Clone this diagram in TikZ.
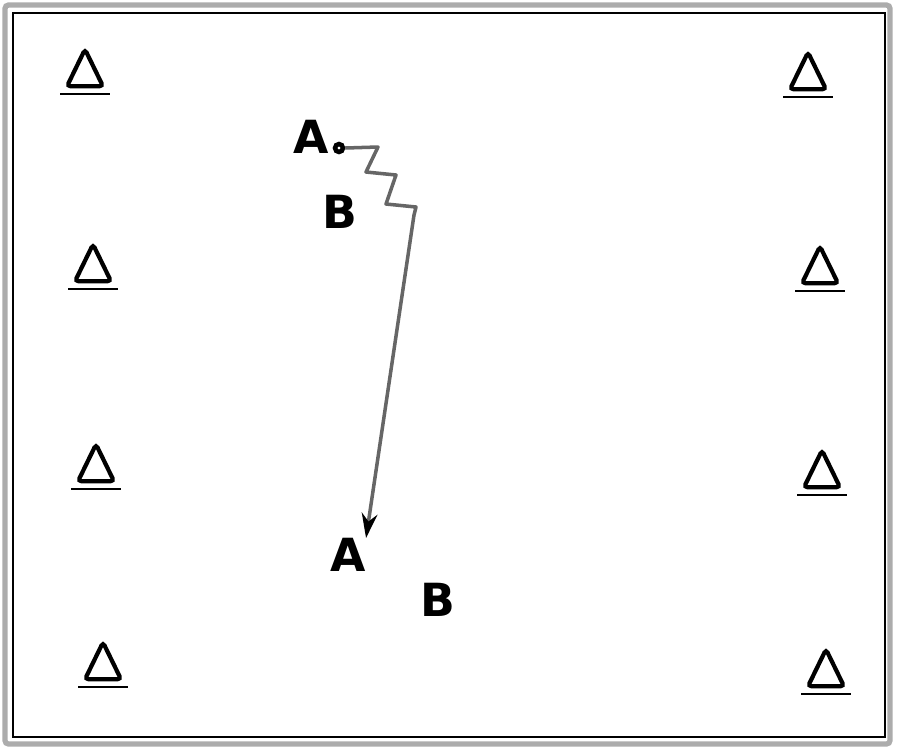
\documentclass[tikz,border=0pt]{standalone}
\usepackage{fontspec}
\setsansfont{DejaVu Sans}
\usetikzlibrary{shapes.geometric,arrows.meta}

\begin{document}
\begin{tikzpicture}[
    x=0.02cm, y=-0.02cm,
    cone/.style = {isosceles triangle, isosceles triangle apex angle=52,
      shape border rotate=90, draw, line width=2.4pt, rounded corners=2pt,
      minimum height=21pt, inner sep=0pt,
      append after command={([yshift=-3.2pt]\tikzlastnode.left corner)
        edge[line width=1pt, shorten <=-2pt, shorten >=-2pt]
        ([yshift=-3.2pt]\tikzlastnode.right corner)}},
    player/.style = {font=\sffamily\bfseries\fontsize{26}{26}\selectfont, inner sep=0pt},
    ball/.style = {circle, draw, line width=2.6pt, fill=white, minimum size=4.5pt, inner sep=0pt},
    run/.style = {draw=black!60, line width=2pt, line join=round},
    ]
    \useasboundingbox (0,0) rectangle (900,752);
    % frame
    \draw[gray!65, line width=3pt, rounded corners=2pt] (5,5) rectangle (890,744);
    \draw[line width=1.2pt] (13,13) rectangle (885,737);
    % cones
    \foreach \n/\x/\y in {l1/85/75, l2/93/270, l3/96/470, l4/103/668,
                          r1/808/78, r2/820/272, r3/822/476, r4/826/675}
      \node[cone] (\n) at (\x,\y) {};
    % players
    \node[player] (A1) at (311,137) {A};
    \node[ball] (ball) at (339,148) {};
    \node[player] (B1) at (340,212) {B};
    \node[player] (A2) at (348,555) {A};
    \node[player] (B2) at (438,600) {B};
    % run with the ball
    \draw[run, -{Stealth[length=14pt,width=9pt,color=black]}] (ball.east) -- (378,147) -- (366,172)
      -- (396,175) -- (386,204) -- (416,207) -- (414,215) -- (A2.north east);
\end{tikzpicture}
\end{document}
